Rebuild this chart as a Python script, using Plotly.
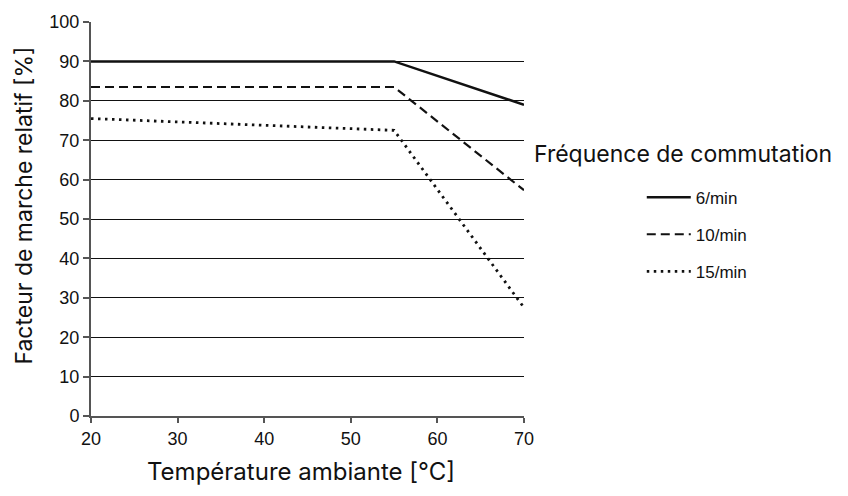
import plotly.graph_objects as go

temps = [20, 55, 70]
series_names = ["6/min", "10/min", "15/min"]
vals_6 = [90, 90, 79]
vals_10 = [83.5, 83.5, 57.3]
vals_15 = [75.5, 72.5, 27.5]
x_ticks = [20, 30, 40, 50, 60, 70]
y_ticks = [0, 10, 20, 30, 40, 50, 60, 70, 80, 90, 100]

styles = [
    dict(width=2.5, dash="solid"),
    dict(width=2.2, dash="9px,5px"),
    dict(width=2.8, dash="2.5px,4.5px"),
]

fig = go.Figure()
for i, (name, vals) in enumerate(zip(series_names, [vals_6, vals_10, vals_15])):
    fig.add_trace(go.Scatter(
        x=temps, y=vals, mode="lines", name=name, legendgroup=name,
        line=dict(color="#111111", **styles[i]),
    ))

title_font = dict(family="Inter", color="#111111")

fig.update_layout(
    width=848, height=496,
    margin=dict(l=83, r=332, t=14, b=88, autoexpand=False),
    plot_bgcolor="white", paper_bgcolor="white",
    showlegend=True,
    legend=dict(
        x=1.272, y=0.60, xanchor="left", yanchor="top",
        font=dict(family="Liberation Sans", size=17, color="#111111"),
        traceorder="grouped", tracegroupgap=12, itemwidth=44,
        bgcolor="rgba(0,0,0,0)",
    ),
    xaxis=dict(
        range=[20, 70], tickvals=x_ticks, showgrid=False, zeroline=False,
        showline=True, linecolor="#555555", linewidth=2,
        ticks="outside", ticklen=5, tickcolor="#555555", tickwidth=1.5,
        tickfont=dict(family="Liberation Sans", size=18, color="#111111"),
    ),
    yaxis=dict(
        range=[0, 100], tickvals=y_ticks, showgrid=True, gridcolor="#111111",
        gridwidth=1, zeroline=False,
        showline=True, linecolor="#555555", linewidth=2,
        ticks="outside", ticklen=6, tickcolor="#555555", tickwidth=1.5,
        tickfont=dict(family="Liberation Sans", size=18, color="#111111"),
    ),
    annotations=[
        dict(text="Fréquence de commutation", xref="paper", yref="paper",
             x=1.018, y=0.665, xanchor="left", yanchor="middle", showarrow=False,
             font=dict(size=23, **title_font)),
        dict(text="Température ambiante [°C]", xref="paper", yref="paper",
             x=0.486, y=-0.142, xanchor="center", yanchor="middle", showarrow=False,
             font=dict(size=24, **title_font)),
        dict(text="Facteur de marche relatif [%]", xref="paper", yref="paper",
             x=-0.1547, y=0.534, xanchor="center", yanchor="middle", showarrow=False,
             textangle=-90, font=dict(size=23, **title_font)),
    ],
)

fig.write_html("out.html")
